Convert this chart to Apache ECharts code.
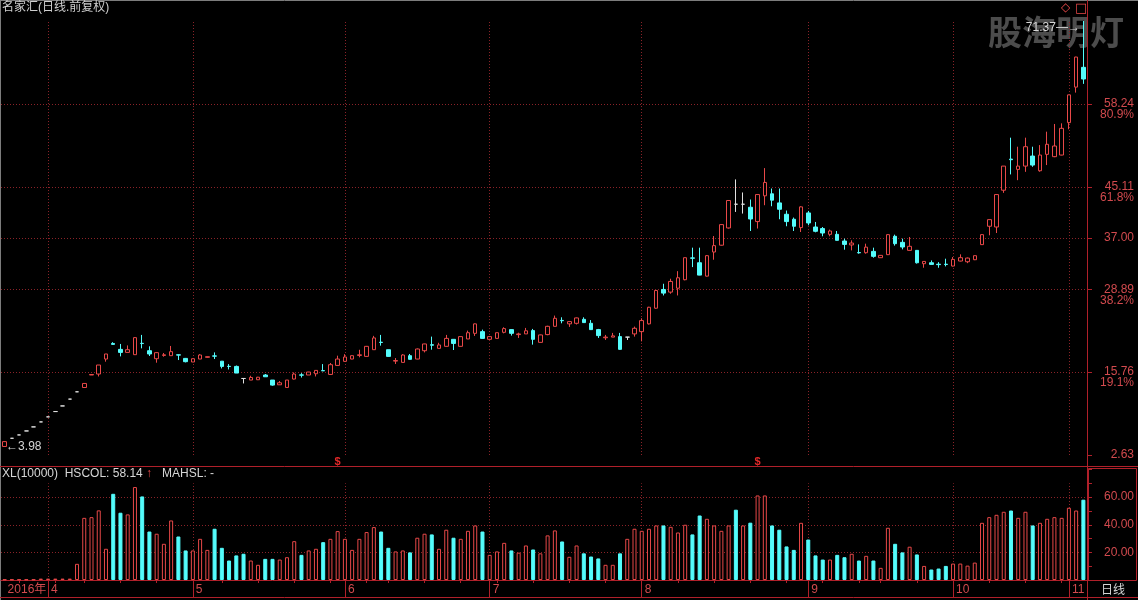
<!DOCTYPE html>
<html>
<head>
<meta charset="utf-8">
<script src="https://cdn.jsdelivr.net/npm/echarts@6/dist/echarts.min.js"></script>
<style>
html,body{margin:0;padding:0;background:#000;}
#chart{width:1138px;height:600px;}
</style>
</head>
<body>
<div id="chart"></div>
<script>
// ---------------- data ----------------
const stockTitle = '名家汇(日线.前复权)';
const yearLabel = '2016年';
const tradeMonths = [3, 4, 5, 6, 7, 8, 9, 10, 11];
const tradeDays = [
  [24,25,28,29,30,31],
  [1,5,6,7,8,11,12,13,14,15,18,19,20,21,22,25,26,27,28,29],
  [3,4,5,6,9,10,11,12,13,16,17,18,19,20,23,24,25,26,27,30,31],
  [1,2,3,6,7,8,13,14,15,16,17,20,21,22,23,24,27,28,29,30],
  [1,4,5,6,7,8,11,12,13,14,15,18,19,20,21,22,25,26,27,28,29],
  [1,2,3,4,5,8,9,10,11,12,15,16,17,18,19,22,23,24,25,26,29,30,31],
  [1,2,5,6,7,8,9,12,13,14,19,20,21,22,23,26,27,28,29,30],
  [10,11,12,13,14,17,18,19,20,21,24,25,26,27,28,31],
  [1,2,3]
];
const openPrice = [
3.98,5.28,5.81,6.44,7.08,7.87,8.67,9.51,10.40,11.48,
12.64,13.32,15.30,15.45,17.83,20.30,19.36,18.88,18.52,20.32,
19.15,17.88,18.40,18.36,18.50,17.93,17.36,17.83,18.10,18.33,
17.49,16.68,16.66,14.75,14.50,14.55,15.30,14.50,13.75,13.33,
14.66,15.32,15.30,15.50,16.00,15.39,16.82,17.46,17.83,18.40,
18.25,19.31,20.50,19.31,17.50,17.30,18.36,17.83,19.15,20.10,
19.52,19.84,20.95,19.84,21.01,21.90,22.17,20.95,21.10,22.06,
22.49,21.70,21.81,22.33,20.47,21.70,23.01,23.95,23.40,23.49,
24.12,23.49,22.49,21.20,21.30,21.38,21.30,21.81,22.17,23.40,
25.88,28.85,28.43,29.05,30.39,33.85,33.08,30.96,34.78,35.86,
38.59,42.35,42.35,41.87,39.60,43.68,44.00,42.56,40.76,39.97,
38.65,40.97,38.74,38.49,37.58,37.58,36.52,35.90,34.70,34.67,
34.88,33.88,34.36,37.27,36.31,35.04,35.04,32.93,33.08,32.85,
32.85,32.56,33.35,33.24,33.56,35.95,38.86,38.74,44.57,49.50,
47.86,48.39,49.98,47.65,50.25,49.88,50.14,55.27,60.90,64.03];
const closePrice = [
4.75,5.28,5.81,6.44,7.08,7.87,8.67,9.51,10.40,11.48,
12.64,13.96,15.38,16.88,18.63,20.15,18.88,19.31,21.22,20.28,
18.63,18.84,18.50,19.00,18.45,17.41,17.88,18.47,18.20,18.29,
16.66,16.64,15.61,14.75,14.91,14.95,15.02,13.70,14.07,14.50,
15.45,15.28,15.77,16.03,15.96,16.93,17.83,18.15,18.36,18.50,
19.84,21.17,20.45,18.25,17.60,18.47,17.78,19.42,20.22,20.02,
20.06,21.10,20.30,21.38,22.00,23.40,21.10,21.38,22.00,22.65,
21.90,21.80,22.30,20.95,21.65,23.01,24.28,23.90,23.76,24.34,
23.60,22.49,21.54,21.30,21.50,19.36,21.30,22.70,23.92,26.03,
28.69,28.27,30.12,30.70,33.88,33.80,31.12,34.20,35.79,39.12,
42.94,42.35,42.35,40.01,43.88,45.80,42.99,41.55,39.60,38.86,
41.93,39.38,38.06,37.79,38.11,36.63,35.99,36.20,34.65,35.55,
34.09,34.25,37.53,36.10,35.57,35.68,33.08,33.29,32.82,32.78,
32.80,33.61,33.88,33.82,34.20,37.53,39.91,43.88,48.39,49.40,
48.39,51.46,48.55,50.14,51.84,51.57,54.37,59.67,65.66,62.18];
const lowPrice = [
3.98,5.28,5.81,6.44,7.08,7.87,8.67,9.51,10.40,11.48,
12.64,13.32,15.30,15.07,17.41,20.10,18.25,18.88,18.50,19.52,
18.31,17.25,18.20,18.36,17.67,17.30,17.36,17.83,18.05,17.83,
16.34,16.18,15.61,13.96,14.50,14.50,15.00,13.60,13.75,13.33,
14.60,14.90,15.30,15.07,15.95,15.30,16.80,17.40,17.80,18.10,
18.20,19.30,19.95,18.20,17.04,17.30,17.75,17.80,18.88,19.31,
19.50,19.80,19.26,19.80,21.00,21.49,21.05,20.90,21.10,21.90,
21.54,21.17,21.80,20.11,20.45,21.60,23.00,23.49,22.92,23.30,
23.55,22.45,21.17,20.85,21.30,19.30,20.85,21.38,20.63,23.30,
25.80,27.90,28.17,27.90,30.30,32.39,31.10,30.90,33.56,35.80,
38.50,41.13,40.87,38.11,38.50,42.19,42.03,39.97,38.86,38.11,
37.95,39.01,37.90,37.27,37.27,36.60,35.15,35.04,34.52,34.52,
33.88,33.85,34.30,35.79,35.20,35.00,32.95,32.29,32.80,32.29,
32.50,32.50,33.30,33.02,33.50,35.90,37.43,37.79,44.15,47.07,
46.16,47.48,48.28,47.50,48.55,49.80,50.10,54.22,60.03,61.41];
const highPrice = [
4.78,5.28,5.81,6.44,7.08,7.87,8.67,9.51,10.40,11.48,
12.64,13.96,15.38,16.88,18.63,20.50,20.22,19.99,21.30,21.65,
19.84,18.90,18.79,19.90,18.55,18.00,17.90,18.60,18.22,18.88,
17.50,17.03,16.80,14.75,15.18,15.00,15.45,14.50,14.34,14.50,
15.71,15.60,15.80,16.05,17.03,17.20,18.36,18.60,18.40,19.30,
19.90,21.50,21.65,19.31,17.99,18.60,18.63,19.50,20.25,21.38,
20.40,21.65,21.00,21.40,22.33,23.45,22.49,21.40,22.00,22.86,
22.55,22.00,22.76,22.60,21.70,23.10,24.71,24.44,23.80,24.40,
24.44,24.00,22.60,21.65,21.97,21.97,21.30,22.97,24.28,26.10,
28.75,29.75,30.55,31.75,33.90,35.47,35.47,34.30,37.31,39.20,
43.00,46.28,44.21,43.10,43.90,48.07,44.84,44.84,41.35,40.24,
42.03,41.29,39.54,38.74,38.33,38.11,36.90,36.63,35.99,36.10,
35.47,34.30,37.60,37.53,36.90,37.16,35.10,33.30,33.45,33.18,
33.72,33.98,34.41,33.90,34.20,37.60,39.95,43.90,48.40,52.89,
51.46,52.89,51.46,51.72,53.84,55.06,55.16,59.70,65.70,71.37];
const turnover = [
0.4,0.4,0.4,0.4,0.4,1.0,1.0,1.0,1.0,1.0,
11.7,45.0,45.5,50.4,22.6,62.4,48.7,47.5,67.3,60.5,
35.1,33.5,26.2,43.1,31.5,21.4,21.4,29.8,21.8,37.1,
23.3,14.1,17.8,19.0,14.1,11.0,15.3,15.3,14.8,16.5,
28.1,18.2,21.4,22.6,27.4,29.8,35.4,29.8,21.8,29.8,
34.7,38.3,35.1,23.3,20.7,21.4,20.0,30.6,33.5,33.0,
22.6,36.4,30.6,29.8,35.6,39.5,35.1,18.2,20.7,26.9,
21.4,19.8,25.0,22.1,19.3,32.3,35.9,27.9,16.8,25.0,
19.3,17.0,15.6,11.0,11.0,19.3,29.8,37.1,35.6,37.1,
39.5,39.5,38.5,34.4,40.0,33.0,46.7,44.3,39.5,35.6,
39.5,50.9,39.5,41.5,61.2,61.2,39.5,36.4,24.3,21.8,
41.4,29.3,17.8,14.8,14.8,18.2,16.5,19.0,14.1,17.5,
14.1,8.8,37.8,26.2,20.0,24.1,18.5,10.2,7.6,8.3,
10.2,11.9,11.9,10.4,12.6,41.4,45.5,47.2,49.4,50.3,
45.0,49.4,39.5,41.4,44.3,45.5,45.0,52.3,50.3,58.14];
const priceAxisMin = 2.63;
const priceAxisMax = 71.37;
const priceTicks = [58.24, 45.11, 37.00, 28.89, 15.76, 2.63];
const priceTickPct = ['80.9%', '61.8%', '', '38.2%', '19.1%', ''];
const priceGridLines = [58.24, 45.11, 37.00, 28.89, 15.76];
const volTicks = [20, 40, 60];
const dividendBars = [46, 104];

// ---------------- derived ----------------
const cats = [], monthStart = [], weekStart = [], dow = [];
tradeMonths.forEach((m, mi) => {
  tradeDays[mi].forEach((d, di) => {
    const i = cats.length;
    cats.push('2016-' + (m < 10 ? '0' : '') + m + '-' + (d < 10 ? '0' : '') + d);
    monthStart.push(di === 0);
    const w = new Date(2016, m - 1, d).getDay();
    dow.push(w);
    weekStart.push(i > 0 && w <= dow[i - 1]);
  });
});
const monthOf = cats.map(c => parseInt(c.slice(5, 7), 10));
const candleData = cats.map((c, i) => [openPrice[i], closePrice[i], lowPrice[i], highPrice[i]]);
let minIdx = 0, maxIdx = 0;
lowPrice.forEach((v, i) => { if (v < lowPrice[minIdx]) minIdx = i; });
highPrice.forEach((v, i) => { if (v > highPrice[maxIdx]) maxIdx = i; });

const UP = '#e84848', DOWN = '#54fcfc', DOJI = '#e0e0e0';
const FRAME = '#b0202a', TXT = '#d24a4e', GRIDC = '#8a2228', WHITE = '#d6d6d6';
const FONT = "'Liberation Sans','Noto Sans CJK SC',sans-serif";

const volData = turnover.map((v, i) => {
  let up;
  if (closePrice[i] > openPrice[i]) up = true;
  else if (closePrice[i] < openPrice[i]) up = false;
  else up = i === 0 || closePrice[i] >= closePrice[i - 1];
  return {
    value: v,
    itemStyle: up ? { color: '#000', borderColor: UP, borderWidth: 1 }
                  : { color: DOWN, borderColor: DOWN, borderWidth: 1 }
  };
});

const monthIdx = cats.map((c, i) => i).filter(i => i > 0 && monthStart[i]);

const chart = echarts.init(document.getElementById('chart'), null, { renderer: 'canvas' });
const option = {
  backgroundColor: '#000',
  animation: false,
  textStyle: { fontFamily: FONT },
  title: [
    { text: stockTitle, left: 2, top: 2, padding: 0,
      textStyle: { color: '#cfcfcf', fontSize: 12, fontWeight: 'normal', fontFamily: FONT } },
    { text: '{w|XL(10000)  HSCOL: ' + turnover[turnover.length - 1].toFixed(2) + '}{r| ↑}{w|   MAHSL: -}',
      left: 2, top: 468, padding: 0,
      textStyle: { fontSize: 12, fontWeight: 'normal',
        rich: { w: { color: WHITE, fontSize: 12, fontFamily: FONT }, r: { color: UP, fontSize: 12, fontFamily: FONT } } } }
  ],
  grid: [
    { left: 1, right: 51, top: 21, height: 434 },
    { left: 1, right: 51, top: 469.5, bottom: 20 }
  ],
  xAxis: [
    { type: 'category', gridIndex: 0, data: cats, boundaryGap: true, show: false },
    { type: 'category', gridIndex: 1, data: cats, boundaryGap: true, position: 'bottom',
      axisLine: { show: true, lineStyle: { color: FRAME, width: 1 } },
      axisTick: { show: true, alignWithLabel: true, length: 17, interval: (i) => i > 0 && monthStart[i],
        lineStyle: { color: FRAME } },
      axisLabel: { show: true, interval: (i) => monthStart[i], margin: 4, align: 'left', padding: [0, 0, 0, 3],
        color: TXT, fontSize: 12, fontFamily: FONT,
        formatter: (v, i) => i === 0 ? yearLabel : String(monthOf[i]) },
      splitLine: { show: false } },
    { type: 'category', gridIndex: 1, data: cats, boundaryGap: true, position: 'bottom',
      axisLine: { show: false }, axisLabel: { show: false }, splitLine: { show: false },
      axisTick: { show: true, alignWithLabel: true, length: 3, interval: (i) => weekStart[i] && !monthStart[i],
        lineStyle: { color: FRAME } } }
  ],
  yAxis: [
    { type: 'value', gridIndex: 0, position: 'right', min: priceAxisMin, max: priceAxisMax,
      splitLine: { show: false }, axisLine: { show: false },
      axisTick: { show: true, length: 5, customValues: priceTicks, lineStyle: { color: FRAME } },
      axisLabel: { show: true, customValues: priceTicks, margin: 47, align: 'right', color: TXT, fontSize: 12,
        fontFamily: FONT,
        formatter: (v) => {
          let k = priceTicks.findIndex(t => Math.abs(t - v) < 1e-6);
          const pct = k >= 0 ? priceTickPct[k] : '';
          return pct ? '{e| }\n{v|' + v.toFixed(2) + '}\n{p|' + pct + '}' : '{v|' + v.toFixed(2) + '}';
        },
        rich: {
          e: { fontSize: 12, lineHeight: 11, color: TXT, align: 'right' },
          v: { fontSize: 12, lineHeight: 11, color: TXT, align: 'right', fontFamily: FONT },
          p: { fontSize: 12, lineHeight: 11, color: TXT, align: 'right', fontFamily: FONT }
        } } },
    { type: 'value', gridIndex: 1, position: 'right', min: 0, max: 80, interval: 20,
      splitLine: { show: false }, axisLine: { show: false },
      axisTick: { show: true, length: 5, lineStyle: { color: FRAME } },
      minorTick: { show: true, splitNumber: 2, length: 5, lineStyle: { color: FRAME } },
      axisLabel: { show: true, margin: 47, align: 'right', color: TXT, fontSize: 12, fontFamily: FONT,
        formatter: (v) => (v > 0 && v < 80) ? v.toFixed(2) : '' } }
  ],
  graphic: {
    elements: [
      { type: 'text', left: 988, top: 15, z: 0,
        style: { text: '股海明灯', fill: '#4c4c4c', font: "bold 34px 'Noto Sans CJK SC'" } },
      { type: 'line', z: 0, shape: { x1: 0, y1: 0.5, x2: 1138, y2: 0.5 }, style: { stroke: '#7c7c7c', lineWidth: 1 } },
      { type: 'line', z: 0, shape: { x1: 0.5, y1: 0, x2: 0.5, y2: 600 }, style: { stroke: '#7c7c7c', lineWidth: 1 } },
      { type: 'line', z: 0, shape: { x1: 1087.5, y1: 0, x2: 1087.5, y2: 600 }, style: { stroke: FRAME, lineWidth: 1 } },
      { type: 'line', z: 0, shape: { x1: 0, y1: 466.5, x2: 1138, y2: 466.5 }, style: { stroke: FRAME, lineWidth: 1 } },
      { type: 'line', z: 0, shape: { x1: 0, y1: 597.5, x2: 1138, y2: 597.5 }, style: { stroke: FRAME, lineWidth: 1 } },
      { type: 'rect', z: 0, shape: { x: 1088.5, y: 468.5, width: 48, height: 112 }, style: { stroke: FRAME, fill: null, lineWidth: 1 } },
      { type: 'text', left: 1101, top: 583, z: 0, style: { text: '日线', fill: WHITE, font: "12px 'Noto Sans CJK SC'" } },
      { type: 'text', left: 1061, top: 2, z: 0, style: { text: '◇', fill: UP, font: "12px 'DejaVu Sans'" } },
      { type: 'text', left: 1075, top: 2, z: 0, style: { text: '□', fill: UP, font: "13px 'DejaVu Sans'" } }
    ]
  },
  series: [
    {
      type: 'candlestick', xAxisIndex: 0, yAxisIndex: 0, data: candleData, barWidth: 4,
      itemStyle: { color: '#000', color0: DOWN, borderColor: UP, borderColor0: DOWN, borderColorDoji: DOJI, borderWidth: 1 },
      markLine: {
        silent: true, z: 1, symbol: ['none', 'none'], label: { show: false },
        lineStyle: { color: GRIDC, type: [1, 2], width: 1 },
        emphasis: { disabled: true },
        data: priceGridLines.map(v => ({ yAxis: v })).concat(monthIdx.map(i => ({ xAxis: cats[i] })))
      },
      markPoint: {
        silent: true, symbol: 'circle', symbolSize: 1,
        itemStyle: { color: 'rgba(0,0,0,0)' },
        data: [
          { coord: [cats[minIdx], lowPrice[minIdx]],
            label: { show: true, position: 'right', distance: 1, color: WHITE, fontSize: 12, fontFamily: FONT,
              formatter: '←' + lowPrice[minIdx].toFixed(2) } },
          { coord: [cats[maxIdx], highPrice[maxIdx]],
            label: { show: true, position: 'left', distance: 3, offset: [0, 7], color: WHITE, fontSize: 12, fontFamily: FONT,
              formatter: highPrice[maxIdx].toFixed(2) + '—→' } }
        ].concat(dividendBars.map(i => ({
          coord: [cats[i], priceAxisMin],
          label: { show: true, position: 'inside', offset: [0, 7], color: '#e02828', fontSize: 11, fontWeight: 'bold',
            fontFamily: FONT, formatter: '$' }
        })))
      }
    },
    {
      type: 'bar', xAxisIndex: 1, yAxisIndex: 1, data: volData, barWidth: 4,
      markLine: {
        silent: true, z: 1, symbol: ['none', 'none'], label: { show: false },
        lineStyle: { color: GRIDC, type: [1, 2], width: 1 },
        emphasis: { disabled: true },
        data: volTicks.map(v => ({ yAxis: v })).concat(monthIdx.map(i => [
          { coord: [cats[i], 0] }, { coord: [cats[i], 70] }
        ]))
      }
    }
  ]
};
chart.setOption(option);
</script>
</body>
</html>
